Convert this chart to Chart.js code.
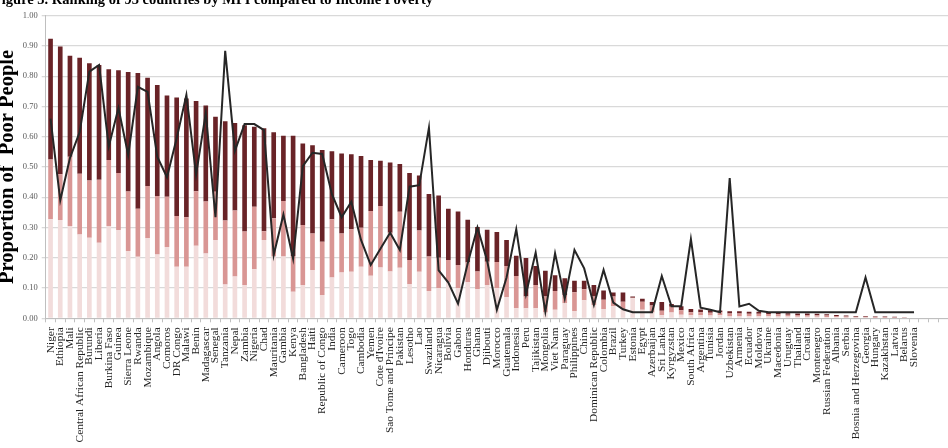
<!DOCTYPE html>
<html>
<head>
<meta charset="utf-8">
<script src="https://cdn.jsdelivr.net/npm/chart.js@4.4.0/dist/chart.umd.min.js"></script>
<style>
  html, body { margin: 0; padding: 0; background: #ffffff; }
  #wrap { position: relative; width: 948px; height: 448px; }
</style>
</head>
<body>
<div id="wrap"><canvas id="c" width="948" height="448"></canvas></div>
<script>
const chartTitle = "Figure 3. Ranking of 93 countries by MPI compared to Income Poverty";
const yAxisTitle = "Proportion of  Poor People";

const countries = [
  "Niger","Ethiopia","Mali","Central African Republic","Burundi","Liberia","Burkina Faso","Guinea",
  "Sierra Leone","Rwanda","Mozambique","Angola","Comoros","DR Congo","Malawi","Benin","Madagascar",
  "Senegal","Tanzania","Nepal","Zambia","Nigeria","Chad","Mauritania","Gambia","Kenya","Bangladesh",
  "Haiti","Republic of Congo","India","Cameroon","Togo","Cambodia","Yemen","Cote d'Ivoire",
  "Sao Tome and Principe","Pakistan","Lesotho","Lao","Swaziland","Nicaragua","Bolivia","Gabon",
  "Honduras","Ghana","Djibouti","Morocco","Guatemala","Indonesia","Peru","Tajikistan","Mongolia",
  "Viet Nam","Paraguay","Philippines","China","Dominican Republic","Colombia","Brazil","Turkey",
  "Estonia","Egypt","Azerbaijan","Sri Lanka","Kyrgyzstan","Mexico","South Africa","Argentina",
  "Tunisia","Jordan","Uzbekistan","Armenia","Ecuador","Moldova","Ukraine","Macedonia","Uruguay",
  "Thailand","Croatia","Montenegro","Russian Federation","Albania","Serbia","Bosnia and Herzegovina",
  "Georgia","Hungary","Kazakhstan","Latvia","Belarus","Slovenia","","",""
];

// bottom (light pink) segment
const lightSegment = [
  .327,.325,.305,.277,.266,.250,.305,.292,.222,.203,.265,.211,.236,.170,.170,.240,.214,
  .259,.112,.138,.110,.162,.259,.204,.204,.088,.110,.160,.077,.135,.151,.154,.170,
  .141,.168,.155,.167,.113,.154,.090,.100,.120,.100,.120,.097,.110,.100,.070,.033,
  .033,.033,.019,.028,.050,.024,.060,.044,.031,.040,.030,.066,.028,.019,.010,.019,
  .012,.010,.010,.009,.010,.008,.008,.007,.007,.007,.006,.006,.005,.005,.005,.004,
  .004,.003,.003,.003,.002,.002,.001,.001,0,null,null,null
];
// middle (medium pink) segment
const mediumSegment = [
  .198,.151,.229,.201,.189,.208,.218,.188,.197,.159,.172,.193,.166,.168,.164,.180,.172,
  .159,.211,.218,.177,.207,.029,.127,.184,.118,.198,.120,.176,.192,.129,.140,.129,
  .214,.203,.128,.185,.080,.136,.114,.100,.073,.076,.064,.058,.077,.086,.103,.107,
  .039,.077,.053,.062,.027,.062,.036,.028,.030,.032,.025,.002,.027,.023,.015,.019,
  .015,.010,.010,.009,.010,.008,.008,.008,.008,.007,.007,.006,.006,.006,.005,.005,
  .004,.003,.002,.002,.002,.002,.002,.001,0,null,null,null
];
// top (dark maroon) segment
const darkSegment = [
  .399,.422,.334,.383,.388,.379,.300,.340,.395,.449,.358,.367,.334,.392,.392,.298,.317,
  .248,.328,.289,.351,.264,.340,.284,.215,.397,.270,.292,.303,.225,.265,.248,.237,
  .168,.150,.232,.158,.287,.182,.207,.206,.169,.177,.142,.147,.106,.099,.086,.067,
  .127,.063,.085,.052,.055,.038,.028,.038,.031,.013,.030,.004,.010,.012,.029,.009,
  .013,.011,.009,.009,.006,.007,.007,.007,.007,.007,.006,.005,.005,.005,.005,.004,
  .003,.003,.003,.003,.002,.002,.002,.001,0,null,null,null
];
// income poverty line
const incomePoverty = [
  .66,.39,.53,.615,.815,.837,.568,.695,.54,.765,.748,.534,.466,.595,.738,.475,.678,
  .334,.884,.553,.642,.642,.622,.209,.343,.197,.503,.547,.543,.41,.334,.385,.259,
  .176,.23,.283,.226,.435,.44,.63,.158,.118,.048,.182,.30,.19,.028,.135,.294,
  .08,.217,.022,.215,.065,.226,.165,.044,.16,.052,.03,.02,.02,.02,.14,.04,
  .04,.262,.035,.028,.02,.463,.039,.048,.025,.02,.02,.02,.02,.02,.02,.02,
  .02,.02,.02,.135,.02,.02,.02,.02,.02,null,null,null
];

const yTickLabels = ["0.00","0.10","0.20","0.30","0.40","0.50","0.60","0.70","0.80","0.90","1.00"];

const serif = "'Liberation Serif', 'Times New Roman', serif";

const titlePlugin = {
  id: 'figTitle',
  afterDraw(chart) {
    const ctx = chart.ctx;
    ctx.save();
    ctx.font = "bold 14.5px " + serif;
    ctx.fillStyle = '#000000';
    ctx.textAlign = 'right';
    ctx.textBaseline = 'alphabetic';
    ctx.fillText(chartTitle, 433, 3.7);
    ctx.restore();
  }
};

const barCommon = { barPercentage: 0.48, categoryPercentage: 1.0, borderWidth: 0, order: 2, stack: 'mpi' };

new Chart(document.getElementById('c'), {
  type: 'bar',
  data: {
    labels: countries,
    datasets: [
      Object.assign({ label: 'light', data: lightSegment, backgroundColor: '#f2dcdb' }, barCommon),
      Object.assign({ label: 'medium', data: mediumSegment, backgroundColor: '#d99694' }, barCommon),
      Object.assign({ label: 'dark', data: darkSegment, backgroundColor: '#692327' }, barCommon),
      {
        type: 'line', label: 'Income poverty', data: incomePoverty, stack: 'line',
        borderColor: '#262626', borderWidth: 2, pointRadius: 0, tension: 0,
        fill: false, spanGaps: false, order: 0
      }
    ]
  },
  options: {
    responsive: false,
    animation: false,
    devicePixelRatio: 1,
    layout: { padding: { top: 15.7, right: 0, bottom: 0, left: 0 } },
    plugins: { legend: { display: false }, tooltip: { enabled: false }, title: { display: false } },
    scales: {
      x: {
        stacked: true,
        afterFit(s) { s.height = 129.7; s.paddingRight = 0; s.paddingLeft = 0; },
        grid: { offset: true, drawOnChartArea: false, drawTicks: true, tickLength: 4, color: '#bfbfbf', lineWidth: 1 },
        border: { color: '#bfbfbf', width: 1 },
        ticks: {
          autoSkip: false, minRotation: 90, maxRotation: 90, padding: 5,
          color: '#222222', font: { family: serif, size: 11.4 }
        }
      },
      y: {
        stacked: true, min: 0, max: 1,
        afterFit(s) { s.width = 45.7; },
        grid: { color: '#d9d9d9', lineWidth: 1.3, tickLength: 4, drawTicks: true },
        border: { color: '#bfbfbf', width: 1 },
        ticks: {
          stepSize: 0.1, padding: 4, color: '#595959',
          font: { family: serif, size: 8.5 },
          callback: (v, i) => yTickLabels[i]
        },
        title: {
          display: true, text: yAxisTitle, color: '#000000', padding: 0,
          font: { family: serif, size: 20.5, weight: 'bold', lineHeight: 0.78 }
        }
      }
    }
  },
  plugins: [titlePlugin]
});
</script>
</body>
</html>
